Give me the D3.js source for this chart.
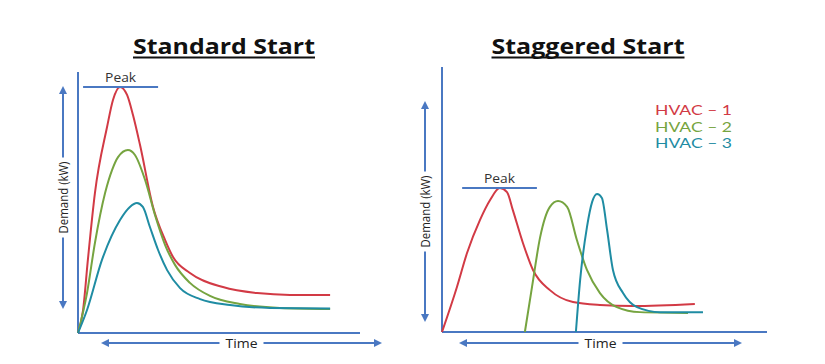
<!DOCTYPE html>
<html>
<head>
<meta charset="UTF-8">
<title>Standard Start vs Staggered Start</title>
<style>
  body { margin: 0; background: #fff; }
  .title { font-family: "Open Sans", sans-serif; font-weight: 700; font-size: 21px; fill: #111; text-anchor: middle; }
  .arrow-label { font-family: "Open Sans", sans-serif; font-size: 12.5px; fill: #222; text-anchor: middle; }
  .peak-label { font-family: "Open Sans", sans-serif; font-size: 12px; fill: #333; text-anchor: middle; }
  .legend { font-family: Lato, sans-serif; font-size: 14px; }
  .curve { fill: none; stroke-width: 2px; }
</style>
<script src="https://d3js.org/d3.v7.min.js"></script>
</head>
<body>
<script>
// ---- data (time 0-100, demand 0-100) ----
const titles = ["Standard Start", "Staggered Start"];
const seriesNames = ["HVAC \u2013 1", "HVAC \u2013 2", "HVAC \u2013 3"];
const seriesColors = ["#d23a45", "#76a440", "#1f8ca3"];

const standardHvac1 = [[0,0],[1.8,8.8],[3.5,28],[6,53.6],[10.3,78.9],[12.4,89.3],[14.9,94.3],[17.4,91.2],[19.5,83.5],[22,72],[26.6,48.3],[30.9,35.6],[33.7,29.1],[39.7,23],[51.4,17.6],[63.5,15.3],[75.2,14.6],[89.4,14.6]];
const standardHvac2 = [[0,0],[3.2,15.3],[6,34.5],[9.6,53.6],[12.1,62.5],[14.2,67.4],[17.7,70.1],[20.2,68.2],[23.8,58.6],[27.3,45.2],[30.9,33.7],[34.4,26.1],[39.7,19.2],[46.8,14.2],[57.4,11.1],[71.6,9.6],[89.4,9.2]];
const standardHvac3 = [[0,0],[3.2,8.8],[8.5,28],[14.9,43.3],[18.4,48.3],[20.9,49.8],[23,48.3],[25.5,40.6],[28.4,31.8],[31.6,24.1],[36.2,17.2],[43.3,13],[53.9,10.7],[68.1,9.6],[89.4,9.4]];

const staggeredHvac1 = [[0,0],[4.6,17],[7.7,29.8],[11.7,42.3],[14.8,49.8],[17.8,54.3],[20,52.8],[21.8,46],[24.9,33.6],[28,23.4],[33.2,15.8],[40.3,11.3],[48.6,10.2],[58.8,9.8],[77.8,10.6]];
const staggeredHvac2 = [[25.5,0],[27.7,17],[30.2,35.8],[33.2,47.2],[35.7,49.4],[38.5,47.2],[41.5,34.7],[44.6,23.4],[48.6,14.7],[53.8,9.4],[60.9,7.5],[75.7,7.2]];
const staggeredHvac3 = [[41.2,0],[42.5,19.6],[44.6,39.6],[46.2,49.1],[47.7,52.1],[49.2,50.6],[50.8,38.5],[52.6,23.4],[55.7,14.7],[60,9.4],[67.1,7.5],[80.3,7.5]];

// peak marker: [tStart, tEnd, demand]
const standardPeak = [1.8, 28.4, 94.3];
const staggeredPeak = [6.2, 29.2, 54.3];

// ---- layout ----
const W = 825, H = 364;
const axisColor = "#4a78c2";
const panels = [
  { title: titles[0], titleX: 224, titleW: 182, xRange: [78, 360], yRange: [333, 72],
    series: [standardHvac1, standardHvac2, standardHvac3], peak: standardPeak,
    yArrow: { x: 63, y1: 90, y2: 305 }, xArrow: { y: 343, x1: 105, x2: 378 }, legend: false },
  { title: titles[1], titleX: 588, titleW: 193, xRange: [442, 767], yRange: [332, 67],
    series: [staggeredHvac1, staggeredHvac2, staggeredHvac3], peak: staggeredPeak,
    yArrow: { x: 425, y1: 105, y2: 318 }, xArrow: { y: 343, x1: 463, x2: 738 }, legend: true }
];

const svg = d3.select("body").append("svg")
  .attr("width", W).attr("height", H);

svg.append("defs").append("marker")
  .attr("id", "head")
  .attr("viewBox", "0 0 10 10")
  .attr("refX", 5).attr("refY", 5)
  .attr("markerWidth", 4).attr("markerHeight", 4)
  .attr("orient", "auto-start-reverse")
  .append("path")
  .attr("d", "M0,0 L10,5 L0,10 z")
  .attr("fill", axisColor);

panels.forEach(p => {
  const x = d3.scaleLinear().domain([0, 100]).range(p.xRange);
  const y = d3.scaleLinear().domain([0, 100]).range(p.yRange);
  const g = svg.append("g");

  // title with underline (source image is stretched sideways)
  g.append("text").attr("class", "title")
    .attr("x", p.titleX).attr("y", 54)
    .attr("textLength", p.titleW).attr("lengthAdjust", "spacingAndGlyphs")
    .text(p.title);
  g.append("line")
    .attr("x1", p.titleX - p.titleW / 2).attr("x2", p.titleX + p.titleW / 2)
    .attr("y1", 57.5).attr("y2", 57.5)
    .attr("stroke", "#111").attr("stroke-width", 1.8);

  // axes (plain lines, no ticks)
  g.append("line")
    .attr("x1", x(0)).attr("x2", x(0)).attr("y1", y(0)).attr("y2", y(100))
    .attr("stroke", axisColor).attr("stroke-width", 2);
  g.append("line")
    .attr("x1", x(0)).attr("x2", x(100)).attr("y1", y(0)).attr("y2", y(0))
    .attr("stroke", axisColor).attr("stroke-width", 2);

  // double arrows with labels
  g.append("line")
    .attr("x1", p.yArrow.x).attr("x2", p.yArrow.x)
    .attr("y1", p.yArrow.y1).attr("y2", p.yArrow.y2)
    .attr("stroke", axisColor).attr("stroke-width", 2)
    .attr("marker-start", "url(#head)").attr("marker-end", "url(#head)");
  const ym = (p.yArrow.y1 + p.yArrow.y2) / 2;
  g.append("rect")
    .attr("x", p.yArrow.x - 7).attr("y", ym - 40).attr("width", 14).attr("height", 80)
    .attr("fill", "#fff");
  g.append("text").attr("class", "arrow-label")
    .attr("transform", `translate(${p.yArrow.x + 4.5},${ym}) rotate(-90)`)
    .attr("textLength", 72).attr("lengthAdjust", "spacingAndGlyphs")
    .text("Demand (kW)");

  g.append("line")
    .attr("x1", p.xArrow.x1).attr("x2", p.xArrow.x2)
    .attr("y1", p.xArrow.y).attr("y2", p.xArrow.y)
    .attr("stroke", axisColor).attr("stroke-width", 2)
    .attr("marker-start", "url(#head)").attr("marker-end", "url(#head)");
  const xm = (p.xArrow.x1 + p.xArrow.x2) / 2;
  g.append("rect")
    .attr("x", xm - 22).attr("y", p.xArrow.y - 7).attr("width", 44).attr("height", 14)
    .attr("fill", "#fff");
  g.append("text").attr("class", "arrow-label")
    .attr("x", xm).attr("y", p.xArrow.y + 4.5)
    .attr("textLength", 32).attr("lengthAdjust", "spacingAndGlyphs")
    .text("Time");

  // curves
  const line = d3.line()
    .x(d => x(d[0])).y(d => y(d[1]))
    .curve(d3.curveMonotoneX);
  p.series.forEach((s, i) => {
    g.append("path").attr("class", "curve")
      .attr("d", line(s))
      .attr("stroke", seriesColors[i]);
  });

  // peak marker
  g.append("line")
    .attr("x1", x(p.peak[0])).attr("x2", x(p.peak[1]))
    .attr("y1", y(p.peak[2])).attr("y2", y(p.peak[2]))
    .attr("stroke", axisColor).attr("stroke-width", 2);
  g.append("text").attr("class", "peak-label")
    .attr("x", x((p.peak[0] + p.peak[1]) / 2)).attr("y", y(p.peak[2]) - 5)
    .attr("textLength", 31).attr("lengthAdjust", "spacingAndGlyphs")
    .text("Peak");

  // legend
  if (p.legend) {
    seriesNames.forEach((n, i) => {
      g.append("text").attr("class", "legend")
        .attr("x", 655).attr("y", 115 + i * 16.5)
        .attr("fill", seriesColors[i])
        .attr("textLength", 77).attr("lengthAdjust", "spacingAndGlyphs")
        .text(n);
    });
  }
});
</script>
</body>
</html>
